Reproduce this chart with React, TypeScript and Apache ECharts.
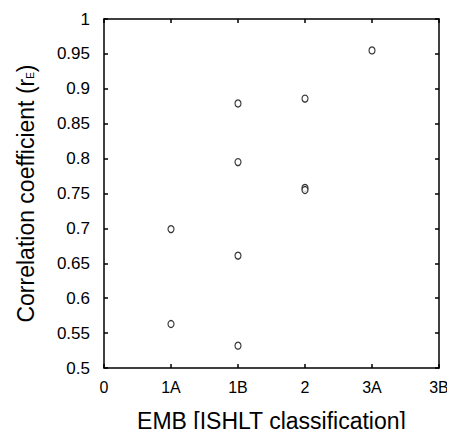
import React, { useEffect, useRef } from "react";
import * as echarts from "echarts";

const categories = ["0", "1A", "1B", "2", "3A", "3B"];
const pointCategories = ["1A", "1A", "1B", "1B", "1B", "1B", "2", "2", "2", "3A"];
const pointValues = [0.563, 0.699, 0.532, 0.661, 0.795, 0.879, 0.886, 0.758, 0.755, 0.955];
const yMin = 0.5;
const yMax = 1;
const yStep = 0.05;

export default function App() {
  const ref = useRef<HTMLDivElement>(null);
  useEffect(() => {
    if (!ref.current) return;
    const chart = echarts.init(ref.current, undefined, { renderer: "svg" });
    const font = "'Liberation Sans', Arial, sans-serif";
    const data = pointCategories.map((c, i) => [c, pointValues[i]]);
    const lineStyle = { color: "#000", width: 1.5 };
    chart.setOption({
      animation: false,
      backgroundColor: "#fff",
      grid: { left: 104, top: 19, right: 16, bottom: 64 },
      xAxis: [
        {
          type: "category",
          data: categories,
          boundaryGap: false,
          position: "bottom",
          axisLine: { lineStyle },
          axisTick: { inside: true, length: 4, alignWithLabel: true, lineStyle },
          axisLabel: { color: "#000", fontFamily: font, fontSize: 16, margin: 11 },
          splitLine: { show: false },
          name: "EMB [ISHLT classification]",
          nameLocation: "middle",
          nameGap: 41,
          nameTextStyle: { color: "#000", fontFamily: font, fontSize: 23 },
        },
        {
          type: "category",
          data: categories,
          boundaryGap: false,
          position: "top",
          axisLine: { lineStyle },
          axisTick: { inside: true, length: 4, lineStyle },
          axisLabel: { show: false },
          splitLine: { show: false },
        },
      ],
      yAxis: [
        {
          type: "value",
          min: yMin,
          max: yMax,
          interval: yStep,
          position: "left",
          axisLine: { show: true, lineStyle },
          axisTick: { show: true, inside: true, length: 4, lineStyle },
          axisLabel: {
            color: "#000",
            fontFamily: font,
            fontSize: 17,
            margin: 14,
            formatter: (v: number) => String(parseFloat(v.toFixed(2))),
          },
          splitLine: { show: false },
          name: "{a|Correlation coefficient (}{a|r}{s|E}{a|)}",
          nameLocation: "middle",
          nameGap: 67,
          nameRotate: 90,
          nameTextStyle: {
            color: "#000",
            fontFamily: font,
            fontSize: 23,
            rich: {
              a: { fontFamily: font, fontSize: 23, color: "#000" },
              s: { fontFamily: font, fontSize: 10, color: "#000", padding: [10, 0, 0, 0] },
            },
          },
        },
        {
          type: "value",
          min: yMin,
          max: yMax,
          interval: yStep,
          position: "right",
          axisLine: { show: true, lineStyle },
          axisTick: { show: true, inside: true, length: 4, lineStyle },
          axisLabel: { show: false },
          splitLine: { show: false },
        },
      ],
      series: [
        {
          type: "scatter",
          xAxisIndex: 0,
          yAxisIndex: 0,
          data,
          symbol: "circle",
          symbolSize: [6, 7],
          itemStyle: { color: "#fff", borderColor: "#000", borderWidth: 1.2 },
        },
      ],
    });
    return () => chart.dispose();
  }, []);
  return <div ref={ref} style={{ width: 455, height: 437, margin: -8 }} />;
}
